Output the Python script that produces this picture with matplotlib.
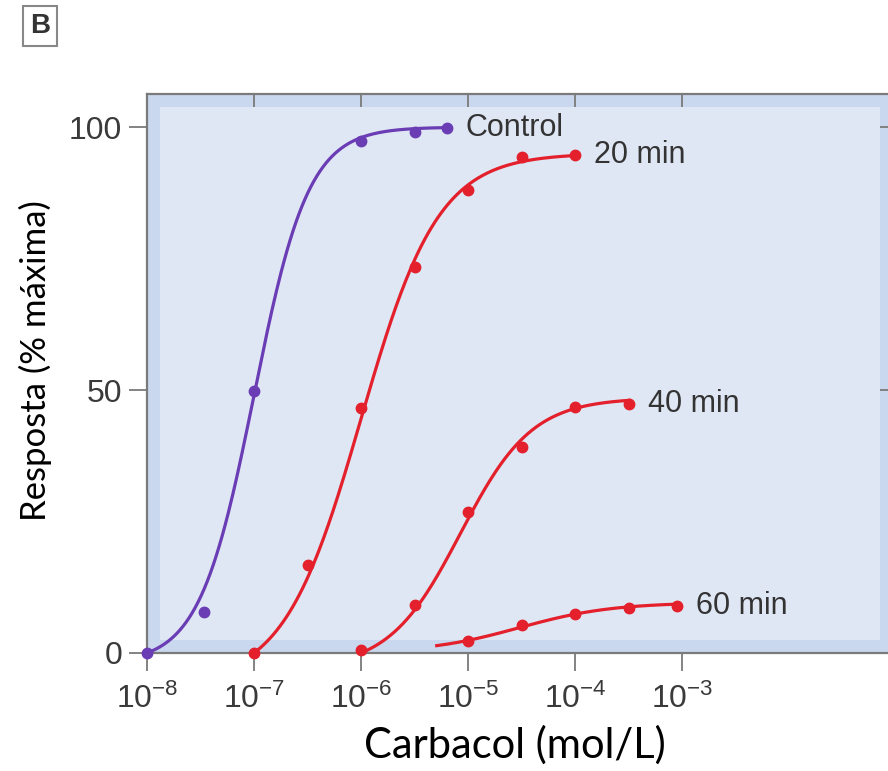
import numpy as np
import matplotlib
matplotlib.use("Agg")
import matplotlib.pyplot as plt
from matplotlib.patches import Rectangle

plt.rcParams['font.family'] = ['Liberation Sans', 'DejaVu Sans']
plt.rcParams['mathtext.fontset'] = 'custom'
plt.rcParams['mathtext.rm'] = 'Liberation Sans'

# measured points (concentration in mol/L, response in % of max)
ctrl_x = [1e-8, 3.4e-8, 1e-7, 1e-6, 3.2e-6, 6.3e-6]
ctrl_y = [0, 7.8, 49.8, 97.3, 99.0, 99.8]
m20_x = [1e-7, 3.2e-7, 1e-6, 3.2e-6, 1e-5, 3.2e-5, 1e-4]
m20_y = [0, 16.7, 46.6, 73.4, 88.0, 94.3, 94.7]
m40_x = [1e-6, 3.2e-6, 1e-5, 3.2e-5, 1e-4, 3.2e-4]
m40_y = [0.6, 9.1, 26.8, 39.2, 46.8, 47.3]
m60_x = [1e-5, 3.2e-5, 1e-4, 3.2e-4, 8.9e-4]
m60_y = [2.3, 5.3, 7.4, 8.6, 8.9]

labels = ['Control', '20 min', '40 min', '60 min']
colors = ['#6a3db5', '#e3202b', '#e3202b', '#e3202b']

# fitted concentration-response curves
emax = [100, 95, 48.5, 9.6]
ec50 = [1.0e-7, 1.0e-6, 8.5e-6, 3.0e-5]
hill_n = [1.7, 1.2, 1.3, 1.0]
curve_start = [1e-8, 1e-7, 1e-6, 5.1e-6]
curve_end = [6.3e-6, 1e-4, 3.2e-4, 8.9e-4]
start_at_zero = [True, True, True, False]

xticks = [1e-8, 1e-7, 1e-6, 1e-5, 1e-4, 1e-3]
xticklabels = ['$\\mathregular{10^{-8}}$', '$\\mathregular{10^{-7}}$', '$\\mathregular{10^{-6}}$',
               '$\\mathregular{10^{-5}}$', '$\\mathregular{10^{-4}}$', '$\\mathregular{10^{-3}}$']
yticks = [0, 50, 100]


def hill(x, top, k, n):
    r = (x / k) ** n
    return top * r / (1 + r)


fig = plt.figure(figsize=(8.88, 7.71), dpi=100)
ax = fig.add_axes([147 / 888, 118 / 771, 745 / 888, 559 / 771])
ax.set_xscale('log')
ax.set_xlim(1e-8, 10 ** (-8 + 745 / 107))
ax.set_ylim(0, 106.3)

# two tone background: darker band, lighter inner panel
ax.set_facecolor('#c9d8ee')
ax.add_patch(Rectangle((0.0175, 0.023), 0.9665, 0.954, transform=ax.transAxes,
                       facecolor='#dfe7f4', edgecolor='none', zorder=0))

series = [(ctrl_x, ctrl_y), (m20_x, m20_y), (m40_x, m40_y), (m60_x, m60_y)]
for i, (xs, ys) in enumerate(series):
    xc = np.logspace(np.log10(curve_start[i]), np.log10(curve_end[i]), 200)
    yc = hill(xc, emax[i], ec50[i], hill_n[i])
    if start_at_zero[i]:
        y0 = hill(curve_start[i], 1.0, ec50[i], hill_n[i])
        yc = (yc / emax[i] - y0) / (1 - y0) * emax[i]
    ax.plot(xc, yc, color=colors[i], lw=2.3, zorder=3, clip_on=False)
    ax.plot(xs, ys, 'o', color=colors[i], ms=7.5, zorder=4, clip_on=False)
    ax.annotate(labels[i], (xs[-1], ys[-1]), xytext=(14, 0), textcoords='offset points',
                va='center', ha='left', fontsize=22, color='#333333')

for s in ax.spines.values():
    s.set_color('#7a7a7a')
    s.set_linewidth(1.6)

ax.set_xticks(xticks)
ax.set_xticklabels(xticklabels)
ax.set_yticks(yticks)
ax.minorticks_off()
ax.tick_params(axis='both', direction='out', length=13, width=1.3, color='#7a7a7a',
               labelsize=23, labelcolor='#3a3a3a')
ax.tick_params(axis='x', pad=9)
ax.tick_params(axis='y', pad=5)
ax.tick_params(top=True, right=True, which='major')

# inner ticks on top and right
for t in ax.xaxis.get_major_ticks():
    t.tick2line.set_marker(matplotlib.lines.TICKDOWN)
    t.tick2line.set_markersize(9)
for t in ax.yaxis.get_major_ticks():
    t.tick2line.set_marker(matplotlib.lines.TICKLEFT)
    t.tick2line.set_markersize(9)

fig.text(515 / 888, 1 - 745 / 771, 'Carbacol (mol/L)', family=['Lato', 'DejaVu Sans'],
         fontsize=30, ha='center', va='center')
fig.text(35 / 888, 1 - 361 / 771, 'Resposta (% máxima)', family=['Lato', 'DejaVu Sans'],
         fontsize=25, ha='center', va='center', rotation=90)

fig.text(40 / 888, 1 - 26 / 771, 'B', fontsize=20, fontweight='bold', color='#333333',
         ha='center', va='center',
         bbox=dict(boxstyle='square,pad=0.25', facecolor='white', edgecolor='#888888', lw=1.5))

fig.savefig('out.png', dpi=100)
